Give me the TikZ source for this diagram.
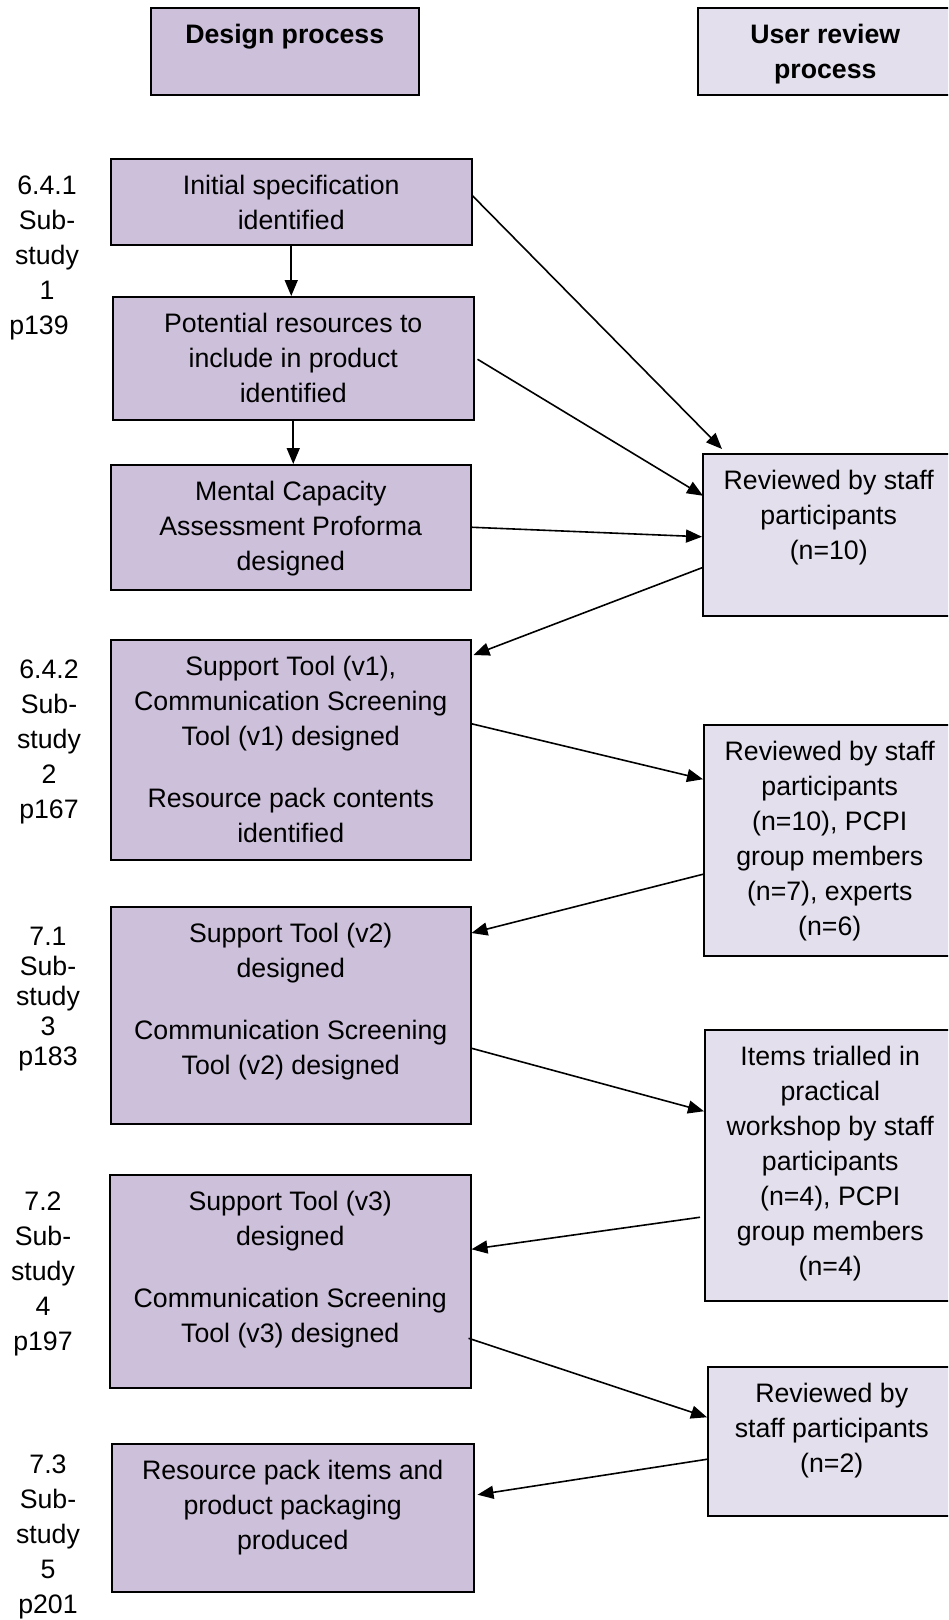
\documentclass[tikz,border=0pt]{standalone}
\usepackage{fontspec}
\setmainfont{Liberation Sans}
\usetikzlibrary{arrows.meta}
\definecolor{designfill}{HTML}{CCC0DA}
\definecolor{reviewfill}{HTML}{E4DFEC}
\newcommand{\topbox}[3]{\parbox[c][#2][t]{#1}{\centering\rule{0pt}{36pt}#3}}

\begin{document}
\begin{tikzpicture}[
    x=1pt, y=-1pt,
    font=\fontsize{26.7}{35}\selectfont,
    dbox/.style={draw, line width=1.5pt, fill=designfill, inner sep=0pt, anchor=north west},
    rbox/.style={dbox, fill=reviewfill},
    lab/.style={align=center, inner sep=0pt, anchor=north},
    arr/.style={-{Triangle[length=16pt, width=13pt]}, line width=1.6pt}
  ]
    \useasboundingbox (0,0) rectangle (948,1620);
    \clip (0,0) rectangle (948,1620);

    \node[dbox] (dp) at (150,7) {\topbox{268pt}{87pt}{\bfseries Design process}};
    \node[rbox] (urp) at (697,7) {\topbox{255pt}{87pt}{\bfseries User review\\process}};

    \node[lab] (s1) at (47,176) {6.4.1\\Sub-\\study\\1\\p139\rule{16pt}{0pt}};
    \node[lab] (s2) at (49,660) {6.4.2\\Sub-\\study\\2\\p167};
    \node[lab, font=\fontsize{26.7}{30}\selectfont] (s3) at (48,927) {7.1\\Sub-\\study\\3\\p183};
    \node[lab] (s4) at (43,1192) {7.2\\Sub-\\study\\4\\p197};
    \node[lab] (s5) at (48,1455) {7.3\\Sub-\\study\\5\\p201};

    \node[dbox] (init) at (110,158) {\topbox{361pt}{86pt}{Initial specification\\identified}};
    \node[dbox] (pot) at (112,296) {\topbox{361pt}{123pt}{Potential resources to\\include in product\\identified}};
    \node[dbox] (ment) at (110,464) {\topbox{360pt}{125pt}{Mental Capacity\\Assessment Proforma\\designed}};
    \node[dbox] (v1) at (110,639) {\topbox{360pt}{220pt}{Support Tool (v1),\\Communication Screening\\Tool (v1) designed\\[27pt]Resource pack contents\\identified}};
    \node[dbox] (v2) at (110,906) {\topbox{360pt}{217pt}{Support Tool (v2)\\designed\\[27pt]Communication Screening\\Tool (v2) designed}};
    \node[dbox] (v3) at (109,1174) {\topbox{361pt}{213pt}{Support Tool (v3)\\designed\\[27pt]Communication Screening\\Tool (v3) designed}};
    \node[dbox] (fin) at (111,1443) {\topbox{362pt}{148pt}{Resource pack items and\\product packaging\\produced}};

    \node[rbox] (rev1) at (702,453) {\topbox{252pt}{162pt}{Reviewed by staff\\participants\\(n=10)}};
    \node[rbox] (rev2) at (703,724) {\topbox{252pt}{231pt}{Reviewed by staff\\participants\\(n=10), PCPI\\group members\\(n=7), experts\\(n=6)}};
    \node[rbox] (rev3) at (704,1029) {\topbox{251pt}{271pt}{Items trialled in\\practical\\workshop by staff\\participants\\(n=4), PCPI\\group members\\(n=4)}};
    \node[rbox] (rev4) at (707,1366) {\topbox{248pt}{149pt}{Reviewed by\\staff participants\\(n=2)}};

    \draw[arr] (init.south) -- (init.south |- pot.north);
    \draw[arr] (pot.south) -- (pot.south |- ment.north);
    \draw[arr] ([shift={(0,-6)}]init.east) -- ([shift={(20,-4)}]rev1.north west);
    \draw[arr] ([shift={(3,1)}]pot.east) -- ([shift={(1,-39)}]rev1.west);
    \draw[arr] (ment.east) -- ([shift={(0,2)}]rev1.west);
    \draw[arr] ([shift={(0,33)}]rev1.west) -- ([shift={(2,16)}]v1.north east);
    \draw[arr] ([shift={(0,-26)}]v1.east) -- ([shift={(0,-61)}]rev2.west);
    \draw[arr] ([shift={(0,34)}]rev2.west) -- ([shift={(0,27)}]v2.north east);
    \draw[arr] ([shift={(0,33)}]v2.east) -- ([shift={(0,-54)}]rev3.west);
    \draw[arr] ([shift={(-4,52)}]rev3.west) -- ([shift={(0,-32)}]v3.east);
    \draw[arr] ([shift={(-3,57)}]v3.east) -- ([shift={(0,-24)}]rev4.west);
    \draw[arr] ([shift={(0,18)}]rev4.west) -- ([shift={(3,-23)}]fin.east);
  \end{tikzpicture}
\end{document}
